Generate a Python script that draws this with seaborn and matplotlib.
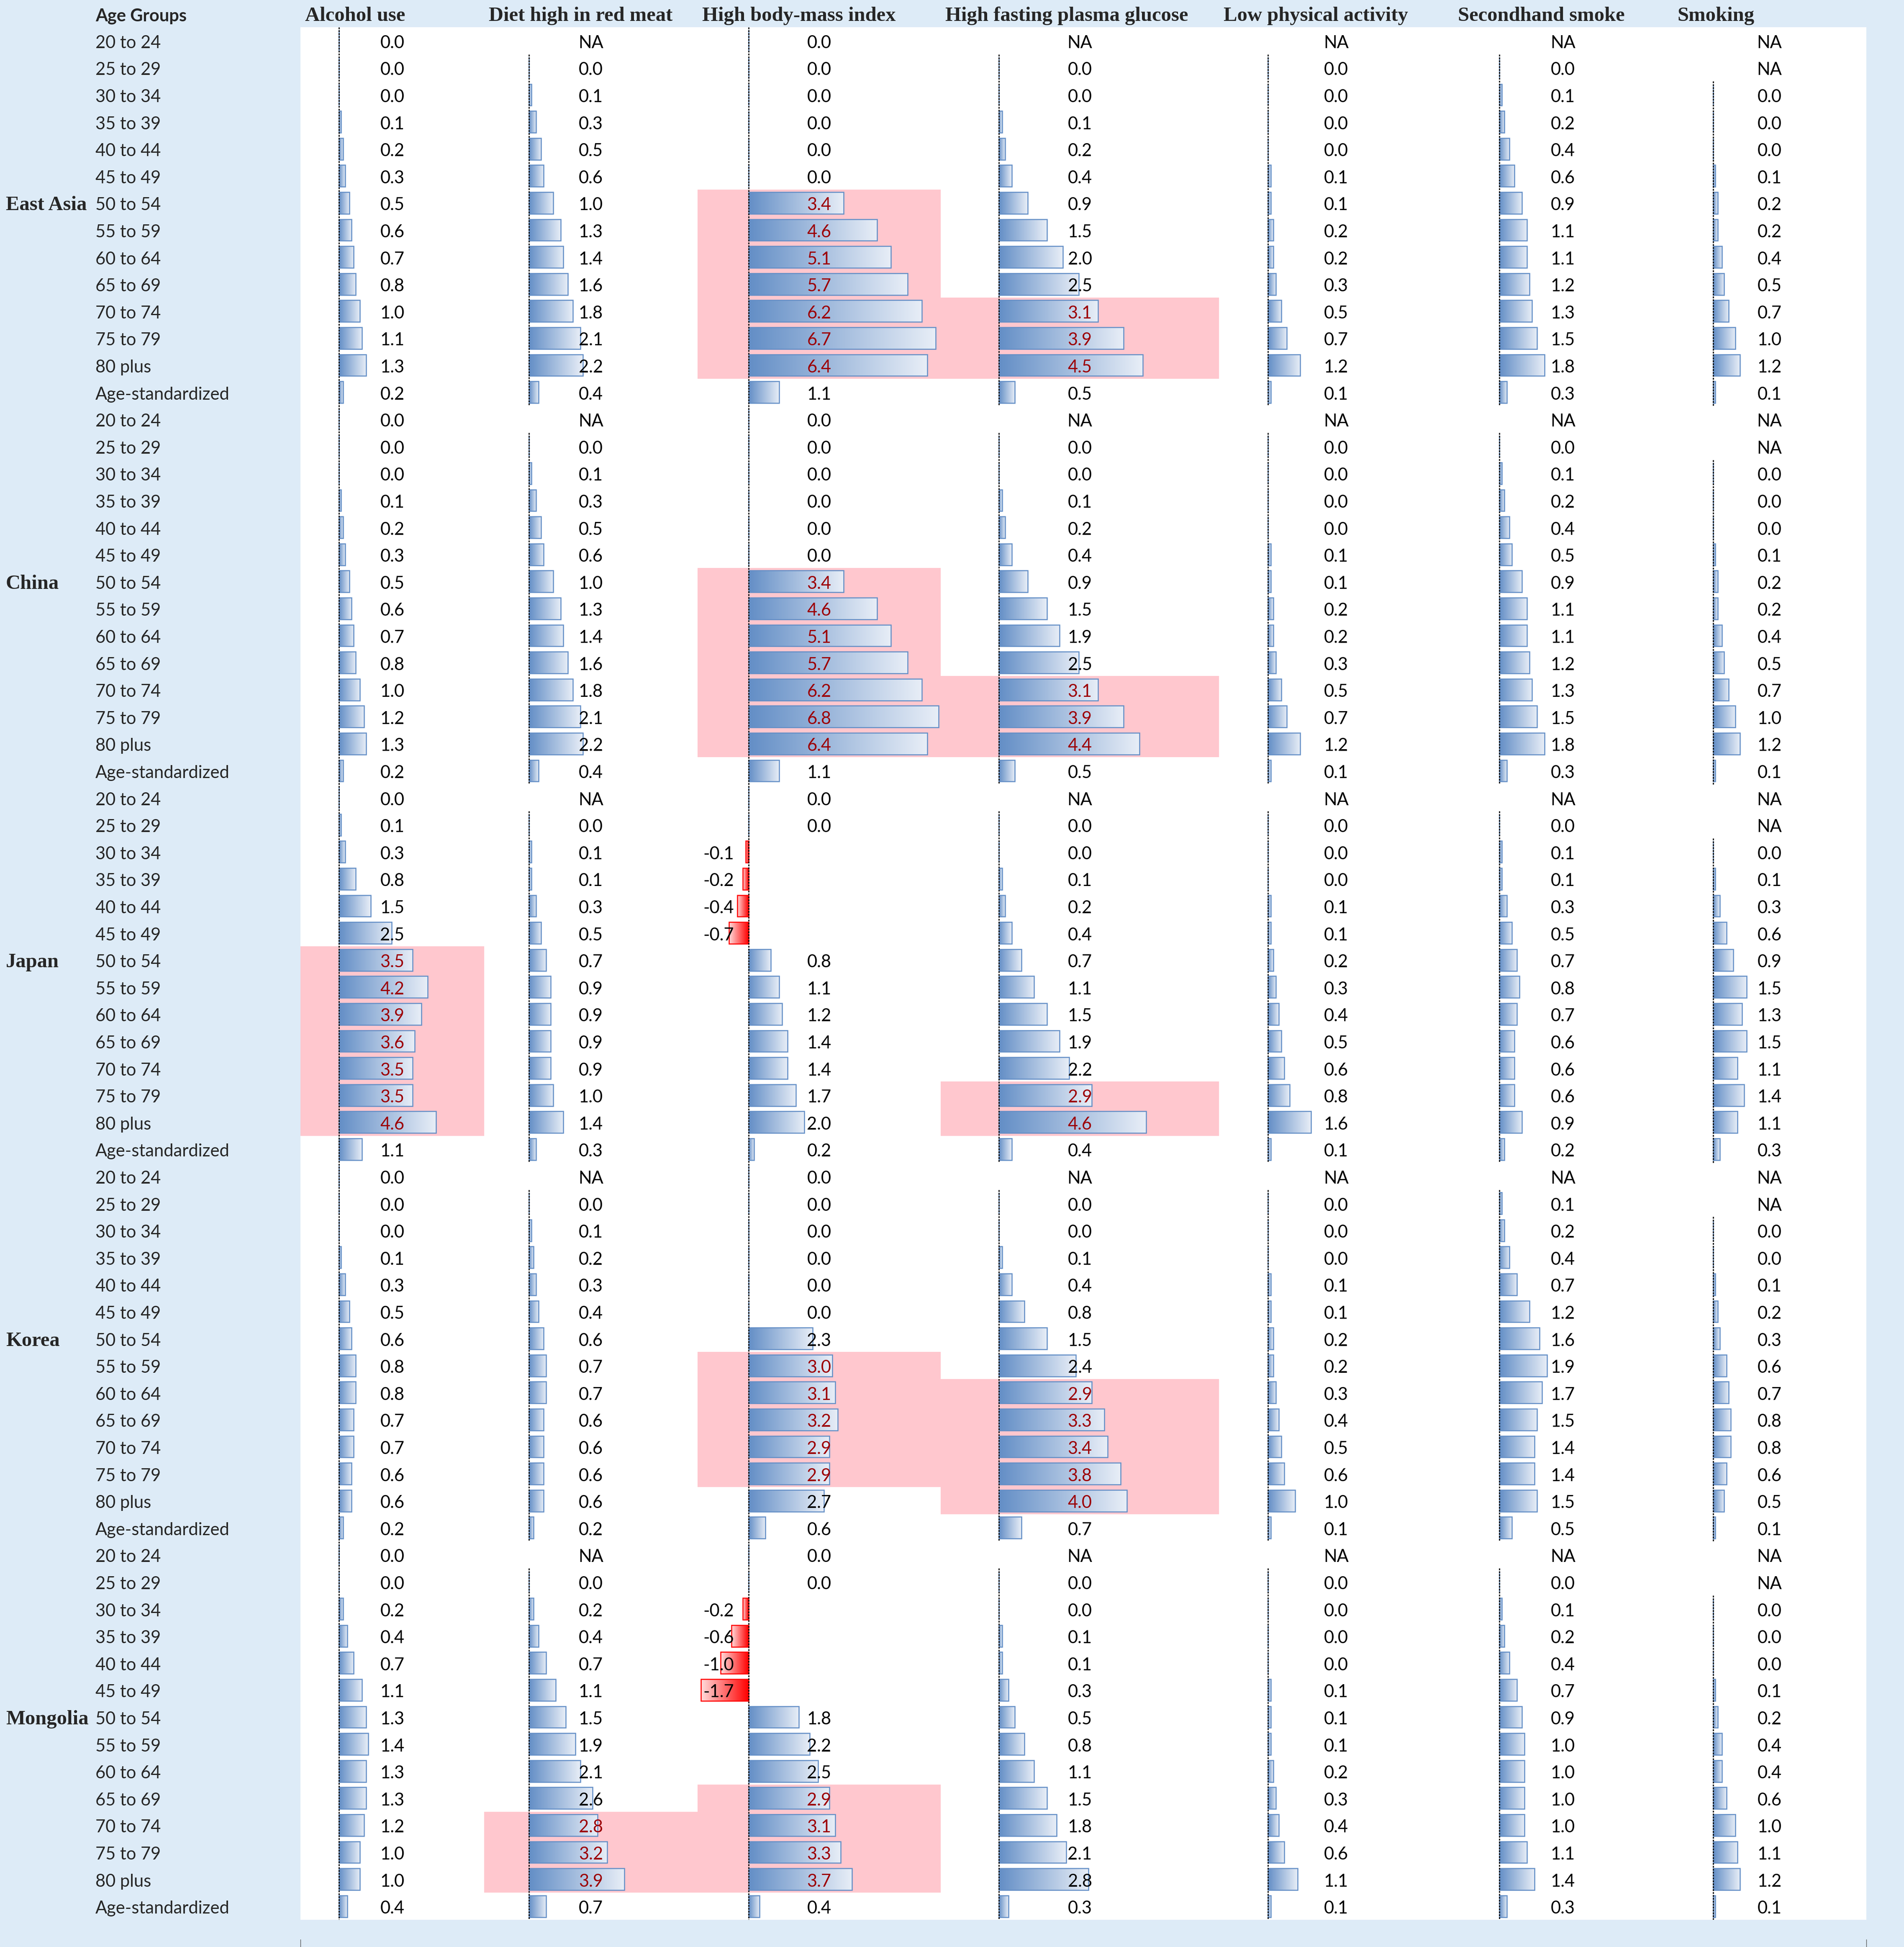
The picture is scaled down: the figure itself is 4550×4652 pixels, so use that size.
import numpy as np
import pandas as pd
import seaborn as sns
import matplotlib.pyplot as plt
import matplotlib.transforms as mtransforms
from matplotlib.colors import LinearSegmentedColormap
from matplotlib.patches import Rectangle

NA = np.nan

regions = ["East Asia", "China", "Japan", "Korea", "Mongolia"]
age_groups = ["20 to 24", "25 to 29", "30 to 34", "35 to 39", "40 to 44",
              "45 to 49", "50 to 54", "55 to 59", "60 to 64", "65 to 69",
              "70 to 74", "75 to 79", "80 plus", "Age-standardized"]
risk_factors = ["Alcohol use", "Diet high in red meat", "High body-mass index",
                "High fasting plasma glucose", "Low physical activity",
                "Secondhand smoke", "Smoking"]

# one list per risk factor, regions stacked in the order above
alcohol_use = [
    0.0, 0.0, 0.0, 0.1, 0.2, 0.3, 0.5, 0.6, 0.7, 0.8, 1.0, 1.1, 1.3, 0.2,
    0.0, 0.0, 0.0, 0.1, 0.2, 0.3, 0.5, 0.6, 0.7, 0.8, 1.0, 1.2, 1.3, 0.2,
    0.0, 0.1, 0.3, 0.8, 1.5, 2.5, 3.5, 4.2, 3.9, 3.6, 3.5, 3.5, 4.6, 1.1,
    0.0, 0.0, 0.0, 0.1, 0.3, 0.5, 0.6, 0.8, 0.8, 0.7, 0.7, 0.6, 0.6, 0.2,
    0.0, 0.0, 0.2, 0.4, 0.7, 1.1, 1.3, 1.4, 1.3, 1.3, 1.2, 1.0, 1.0, 0.4,
]
red_meat = [
    NA, 0.0, 0.1, 0.3, 0.5, 0.6, 1.0, 1.3, 1.4, 1.6, 1.8, 2.1, 2.2, 0.4,
    NA, 0.0, 0.1, 0.3, 0.5, 0.6, 1.0, 1.3, 1.4, 1.6, 1.8, 2.1, 2.2, 0.4,
    NA, 0.0, 0.1, 0.1, 0.3, 0.5, 0.7, 0.9, 0.9, 0.9, 0.9, 1.0, 1.4, 0.3,
    NA, 0.0, 0.1, 0.2, 0.3, 0.4, 0.6, 0.7, 0.7, 0.6, 0.6, 0.6, 0.6, 0.2,
    NA, 0.0, 0.2, 0.4, 0.7, 1.1, 1.5, 1.9, 2.1, 2.6, 2.8, 3.2, 3.9, 0.7,
]
high_bmi = [
    0.0, 0.0, 0.0, 0.0, 0.0, 0.0, 3.4, 4.6, 5.1, 5.7, 6.2, 6.7, 6.4, 1.1,
    0.0, 0.0, 0.0, 0.0, 0.0, 0.0, 3.4, 4.6, 5.1, 5.7, 6.2, 6.8, 6.4, 1.1,
    0.0, 0.0, -0.1, -0.2, -0.4, -0.7, 0.8, 1.1, 1.2, 1.4, 1.4, 1.7, 2.0, 0.2,
    0.0, 0.0, 0.0, 0.0, 0.0, 0.0, 2.3, 3.0, 3.1, 3.2, 2.9, 2.9, 2.7, 0.6,
    0.0, 0.0, -0.2, -0.6, -1.0, -1.7, 1.8, 2.2, 2.5, 2.9, 3.1, 3.3, 3.7, 0.4,
]
high_fpg = [
    NA, 0.0, 0.0, 0.1, 0.2, 0.4, 0.9, 1.5, 2.0, 2.5, 3.1, 3.9, 4.5, 0.5,
    NA, 0.0, 0.0, 0.1, 0.2, 0.4, 0.9, 1.5, 1.9, 2.5, 3.1, 3.9, 4.4, 0.5,
    NA, 0.0, 0.0, 0.1, 0.2, 0.4, 0.7, 1.1, 1.5, 1.9, 2.2, 2.9, 4.6, 0.4,
    NA, 0.0, 0.0, 0.1, 0.4, 0.8, 1.5, 2.4, 2.9, 3.3, 3.4, 3.8, 4.0, 0.7,
    NA, 0.0, 0.0, 0.1, 0.1, 0.3, 0.5, 0.8, 1.1, 1.5, 1.8, 2.1, 2.8, 0.3,
]
low_activity = [
    NA, 0.0, 0.0, 0.0, 0.0, 0.1, 0.1, 0.2, 0.2, 0.3, 0.5, 0.7, 1.2, 0.1,
    NA, 0.0, 0.0, 0.0, 0.0, 0.1, 0.1, 0.2, 0.2, 0.3, 0.5, 0.7, 1.2, 0.1,
    NA, 0.0, 0.0, 0.0, 0.1, 0.1, 0.2, 0.3, 0.4, 0.5, 0.6, 0.8, 1.6, 0.1,
    NA, 0.0, 0.0, 0.0, 0.1, 0.1, 0.2, 0.2, 0.3, 0.4, 0.5, 0.6, 1.0, 0.1,
    NA, 0.0, 0.0, 0.0, 0.0, 0.1, 0.1, 0.1, 0.2, 0.3, 0.4, 0.6, 1.1, 0.1,
]
secondhand_smoke = [
    NA, 0.0, 0.1, 0.2, 0.4, 0.6, 0.9, 1.1, 1.1, 1.2, 1.3, 1.5, 1.8, 0.3,
    NA, 0.0, 0.1, 0.2, 0.4, 0.5, 0.9, 1.1, 1.1, 1.2, 1.3, 1.5, 1.8, 0.3,
    NA, 0.0, 0.1, 0.1, 0.3, 0.5, 0.7, 0.8, 0.7, 0.6, 0.6, 0.6, 0.9, 0.2,
    NA, 0.1, 0.2, 0.4, 0.7, 1.2, 1.6, 1.9, 1.7, 1.5, 1.4, 1.4, 1.5, 0.5,
    NA, 0.0, 0.1, 0.2, 0.4, 0.7, 0.9, 1.0, 1.0, 1.0, 1.0, 1.1, 1.4, 0.3,
]
smoking = [
    NA, NA, 0.0, 0.0, 0.0, 0.1, 0.2, 0.2, 0.4, 0.5, 0.7, 1.0, 1.2, 0.1,
    NA, NA, 0.0, 0.0, 0.0, 0.1, 0.2, 0.2, 0.4, 0.5, 0.7, 1.0, 1.2, 0.1,
    NA, NA, 0.0, 0.1, 0.3, 0.6, 0.9, 1.5, 1.3, 1.5, 1.1, 1.4, 1.1, 0.3,
    NA, NA, 0.0, 0.0, 0.1, 0.2, 0.3, 0.6, 0.7, 0.8, 0.8, 0.6, 0.5, 0.1,
    NA, NA, 0.0, 0.0, 0.0, 0.1, 0.2, 0.4, 0.4, 0.6, 1.0, 1.1, 1.2, 0.1,
]

# cells marked with the light red fill (region, factor, first age, last age)
flagged = [
    ("East Asia", "High body-mass index", "50 to 54", "80 plus"),
    ("East Asia", "High fasting plasma glucose", "70 to 74", "80 plus"),
    ("China", "High body-mass index", "50 to 54", "80 plus"),
    ("China", "High fasting plasma glucose", "70 to 74", "80 plus"),
    ("Japan", "Alcohol use", "50 to 54", "80 plus"),
    ("Japan", "High fasting plasma glucose", "75 to 79", "80 plus"),
    ("Korea", "High body-mass index", "55 to 59", "75 to 79"),
    ("Korea", "High fasting plasma glucose", "60 to 64", "80 plus"),
    ("Mongolia", "Diet high in red meat", "70 to 74", "80 plus"),
    ("Mongolia", "High body-mass index", "65 to 69", "80 plus"),
]

columns = [alcohol_use, red_meat, high_bmi, high_fpg, low_activity,
           secondhand_smoke, smoking]

# layout, in pixels of the output image
W, H = 4550, 4652
top, row_h = 65, 64.6
n_rows = len(regions) * len(age_groups)
bottom = top + n_rows * row_h
col_edges = [718, 1157, 1667, 2248, 2913, 3473, 3997, 4460]
label_x, region_x = 228, 14

BG = "#DDEBF7"
BLUE = "#638EC6"
RED = "#FF0000"
PINK = "#FFC7CE"
DARK_RED = "#9C0006"

sns.set_style("white")
plt.rcParams["font.family"] = ["Lato", "DejaVu Sans"]
SERIF = ["Liberation Serif", "DejaVu Serif"]
SANS_SIZE, SERIF_SIZE = 30, 35

blue_grad = LinearSegmentedColormap.from_list("bg", [BLUE, "#E8EEF7"])
red_grad = LinearSegmentedColormap.from_list("rg", ["#FFDCDC", RED])


def row_of(region, age):
    return regions.index(region) * len(age_groups) + age_groups.index(age)


def baseline(r):
    return r + 0.5 - 0.23


fig = plt.figure(figsize=(W / 100, H / 100), dpi=100, facecolor=BG)

bg = fig.add_axes([0, 0, 1, 1])
bg.set_xlim(0, W)
bg.set_ylim(H, 0)
bg.axis("off")
bg.add_patch(Rectangle((col_edges[0], top), col_edges[-1] - col_edges[0],
                       bottom - top, facecolor="white", edgecolor="none"))

flag_cells = set()
for region, factor, first, last in flagged:
    c = risk_factors.index(factor)
    r0, r1 = row_of(region, first), row_of(region, last)
    bg.add_patch(Rectangle((col_edges[c], top + r0 * row_h),
                           col_edges[c + 1] - col_edges[c], (r1 - r0 + 1) * row_h,
                           facecolor=PINK, edgecolor="none"))
    for r in range(r0, r1 + 1):
        flag_cells.add((r, c))

# header row
bg.text(label_x, 50, "Age Groups", fontsize=SANS_SIZE, fontweight="bold",
        va="baseline")
for c, name in enumerate(risk_factors):
    bg.text(col_edges[c] + 11, 50, name, family=SERIF, fontsize=SERIF_SIZE,
            fontweight="bold", va="baseline")

# row labels
for b, region in enumerate(regions):
    for a, age in enumerate(age_groups):
        r = b * len(age_groups) + a
        y = top + baseline(r) * row_h + 0.5 * row_h
        bg.text(label_x, y, age, fontsize=SANS_SIZE, va="baseline")
        if age == "50 to 54":
            bg.text(region_x, y, region, family=SERIF, fontsize=SERIF_SIZE,
                    fontweight="bold", va="baseline")

# little marks under the table corners
for x in (col_edges[0], col_edges[-1]):
    bg.plot([x, x], [H - 18, H], color="#555555", lw=1)

# one axes per risk factor, all sharing the same data-bar scale
for c, values in enumerate(columns):
    x0, x1 = col_edges[c], col_edges[c + 1]
    ax = fig.add_axes([x0 / W, 1 - bottom / H, (x1 - x0) / W, (bottom - top) / H])
    df = pd.DataFrame({"row": np.arange(n_rows), "value": values}).dropna()
    sns.barplot(data=df, x="value", y="row", orient="h", native_scale=True,
                width=0.8, color=BLUE, saturation=1, errorbar=None,
                edgecolor=BLUE, linewidth=1.8, legend=False, ax=ax)

    grad = np.linspace(0, 1, 256).reshape(1, -1)
    for p in list(ax.patches):
        w = p.get_width()
        px, py, ph = p.get_x(), p.get_y(), p.get_height()
        if w < 0:
            p.set_edgecolor(RED)
            cmap, ext = red_grad, (px + w, px, py + ph, py)
        else:
            cmap, ext = blue_grad, (px, px + w, py + ph, py)
        p.set_facecolor("none")
        if abs(w) > 1e-9:
            im = ax.imshow(grad, cmap=cmap, extent=ext, aspect="auto",
                           interpolation="bilinear", zorder=0.9)
            im.set_clip_path(p)

    # dashed zero line for every cell that holds a number
    vals = np.array(values, dtype=float)
    ok = ~np.isnan(vals)
    r = 0
    while r < n_rows:
        if ok[r]:
            s = r
            while r + 1 < n_rows and ok[r + 1]:
                r += 1
            ax.plot([0, 0], [s - 0.5, r + 0.5], color="black", lw=2.0,
                    linestyle=(0, (1.5, 1)), zorder=4)
        r += 1

    trans = mtransforms.blended_transform_factory(ax.transAxes, ax.transData)
    for r, v in enumerate(vals):
        color = DARK_RED if (r, c) in flag_cells else "black"
        if np.isnan(v):
            ax.text(0.5, baseline(r), "NA", transform=trans, ha="center",
                    va="baseline", fontsize=SANS_SIZE, color=color, zorder=5)
        elif v < 0:
            ax.text(13 / (x1 - x0), baseline(r), f"{v:.1f}", transform=trans,
                    ha="left", va="baseline", fontsize=SANS_SIZE, color=color,
                    zorder=5)
        else:
            ax.text(0.5, baseline(r), f"{v:.1f}", transform=trans, ha="center",
                    va="baseline", fontsize=SANS_SIZE, color=color, zorder=5)

    ax.set_xlim(-1.82, 6.88)
    ax.set_ylim(n_rows - 0.5, -0.5)
    ax.axis("off")

fig.savefig("out.png", dpi=100, facecolor=BG)
